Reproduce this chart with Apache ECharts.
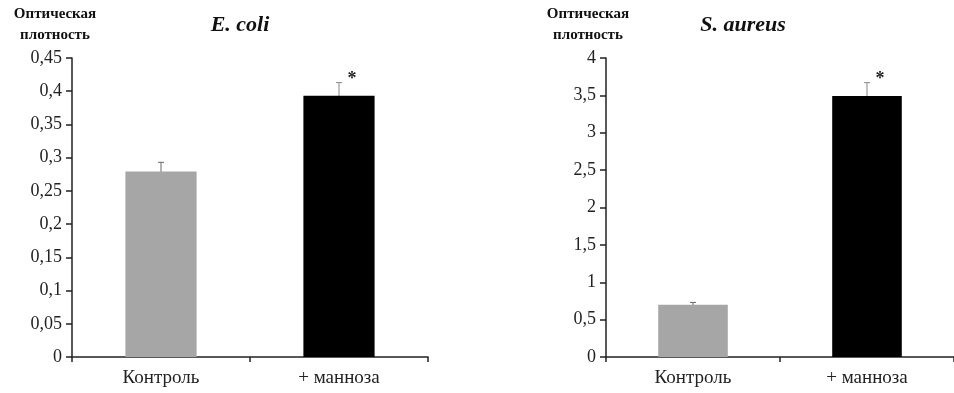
<!DOCTYPE html>
<html><head><meta charset="utf-8">
<script src="https://cdn.jsdelivr.net/npm/echarts@6/dist/echarts.min.js"></script>
<style>html,body{margin:0;padding:0;background:#fff}#c{width:954px;height:393px}</style>
</head><body><div id="c"></div>
<script>
const categories = ['Контроль', '+ манноза'];
const ecoliValues = [0.279, 0.393];
const ecoliErrors = [0.014, 0.02];
const aureusValues = [0.70, 3.49];
const aureusErrors = [0.03, 0.18];
const barColors = ['#a6a6a6', '#000000'];
const titles = ['E. coli', 'S. aureus'];
const yName = 'Оптическая\nплотность';
const sig = ['', '*'];

const serif = '"Liberation Serif","Times New Roman",serif';
const fmt = v => String(+(+v).toFixed(2)).replace('.', ',');

function xAx(i){return {type:'category',gridIndex:i,data:categories,
  axisLine:{lineStyle:{color:'#222',width:1.5}},
  axisTick:{show:true,length:5,lineStyle:{color:'#222',width:1.5}},
  axisLabel:{color:'#222',fontFamily:serif,fontSize:19,margin:12}};}
function yAx(i,max,interval){return {type:'value',gridIndex:i,min:0,max:max,interval:interval,
  splitLine:{show:false},
  axisLine:{show:true,lineStyle:{color:'#222',width:1.5}},
  axisTick:{show:true,length:6,lineStyle:{color:'#222',width:1.5}},
  axisLabel:{color:'#222',fontFamily:serif,fontSize:18,margin:10,formatter:fmt}};}

function barSeries(i,vals){return {type:'bar',xAxisIndex:i,yAxisIndex:i,barWidth:'40%',
  data:vals.map((v,k)=>({value:v,itemStyle:{color:barColors[k]}})),silent:true};}
function errSeries(i,vals,errs){return {type:'custom',xAxisIndex:i,yAxisIndex:i,silent:true,
  data:vals.map((v,k)=>[k,v,errs[k]]),
  renderItem:function(p,api){
    const k=api.value(0),v=api.value(1),e=api.value(2);
    const top=api.coord([k,v+e]),bot=api.coord([k,v-e]);
    const col = k===0 ? '#666' : '#888';
    const ch=[
      {type:'line',shape:{x1:top[0],y1:top[1],x2:bot[0],y2:bot[1]},style:{stroke:col,lineWidth:1}},
      {type:'line',shape:{x1:top[0]-3,y1:top[1],x2:top[0]+3,y2:top[1]},style:{stroke:col,lineWidth:1}},
      {type:'line',shape:{x1:bot[0]-3,y1:bot[1],x2:bot[0]+3,y2:bot[1]},style:{stroke:col,lineWidth:1}}
    ];
    if(sig[k]){ch.push({type:'text',style:{text:sig[k],x:top[0]+13,y:top[1]-3,fill:'#222',font:'bold 18px '+serif,textAlign:'center',textVerticalAlign:'middle'}});}
    return {type:'group',children:ch};
  }};}

const chart = echarts.init(document.getElementById('c'));
chart.setOption({
  animation:false,
  title:[
    {text:titles[0],left:235,top:9,textAlign:'center',textStyle:{fontFamily:serif,fontStyle:'italic',fontWeight:'bold',fontSize:22,color:'#111'}},
    {text:titles[1],left:738,top:9,textAlign:'center',textStyle:{fontFamily:serif,fontStyle:'italic',fontWeight:'bold',fontSize:22,color:'#111'}}
  ],
  graphic:[
    {type:'text',x:55,y:25,style:{text:yName,font:'bold 15px '+serif,fill:'#111',textAlign:'center',textVerticalAlign:'middle',lineHeight:21}},
    {type:'text',x:588,y:25,style:{text:yName,font:'bold 15px '+serif,fill:'#111',textAlign:'center',textVerticalAlign:'middle',lineHeight:21}}
  ],
  grid:[
    {left:72,top:58,width:356,height:299},
    {left:606,top:58,width:354,height:299}
  ],
  xAxis:[xAx(0),xAx(1)],
  yAxis:[yAx(0,0.45,0.05),yAx(1,4,0.5)],
  series:[barSeries(0,ecoliValues),errSeries(0,ecoliValues,ecoliErrors),
          barSeries(1,aureusValues),errSeries(1,aureusValues,aureusErrors)]
});
</script></body></html>
